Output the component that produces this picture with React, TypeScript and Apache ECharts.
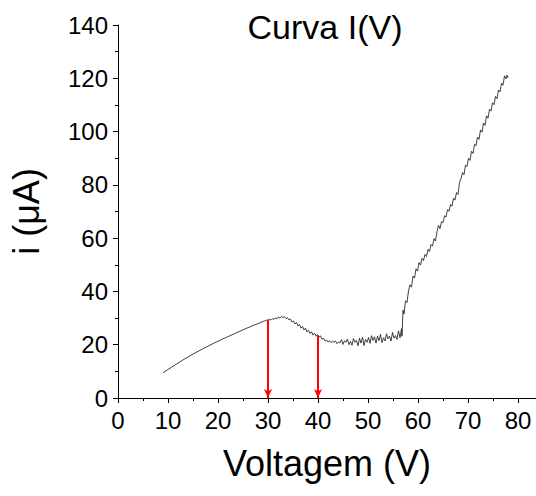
import React, { useEffect, useRef } from "react";
import * as echarts from "echarts";

const voltage: number[] = [
  9.0, 11, 13, 15, 17, 19, 21, 23, 25, 27, 28.5, 29.5, 30,
  30.3, 30.6, 30.9, 31.2, 31.5, 31.8, 32.1, 32.4, 32.7, 33.0, 33.3, 33.6, 33.9,
  34.2, 34.5, 34.8, 35.1, 35.4, 35.7, 36.0, 36.3, 36.6, 36.9, 37.2, 37.5, 37.8,
  38.1, 38.4, 38.7, 39.0, 39.3, 39.6, 39.9, 40.2, 40.5, 40.8, 41.1, 41.4, 41.7,
  42.0, 42.3, 42.6, 42.9, 43.2, 43.5, 43.8, 44.1, 44.4, 44.7, 45.0, 45.3, 45.6,
  45.9, 46.2, 46.5, 46.8, 47.1, 47.4, 47.7, 48.0, 48.3, 48.6, 48.9, 49.2, 49.5,
  49.8, 50.1, 50.4, 50.7, 51.0, 51.3, 51.6, 51.9, 52.2, 52.5, 52.8, 53.1, 53.4,
  53.7, 54.0, 54.3, 54.6, 54.9, 55.2, 55.5, 55.8, 56.1, 56.4, 56.7, 56.8,
  57.0, 57.2, 57.5, 57.8, 58.1, 58.4, 58.7, 59.0, 59.3, 59.6, 59.9, 60.2, 60.5,
  60.8, 61.1, 61.4, 61.7, 62.0, 62.3, 62.6, 62.9, 63.2, 63.5, 63.8, 64.1, 64.4,
  64.7, 65.0, 65.3, 65.6, 65.9, 66.2, 66.5, 66.8, 67.1, 67.4, 67.7, 68.0, 68.3,
  68.6, 68.9, 69.2, 69.5, 69.8, 70.1, 70.4, 70.7, 71.0, 71.3, 71.6, 71.9, 72.2,
  72.5, 72.8, 73.1, 73.4, 73.7, 74.0, 74.3, 74.6, 74.9, 75.2, 75.5, 75.8, 76.1,
  76.4, 76.7, 77.0, 77.3, 77.6, 77.8, 78.0,
];

const current: number[] = [
  9.5, 11.9, 14.3, 16.5, 18.5, 20.4, 22.2, 23.9, 25.6, 27.2, 28.3, 29.1, 29.3,
  29.6, 29.2, 29.8, 29.5, 30.1, 29.7, 30.4, 30.0, 30.6, 30.2, 30.5, 29.8, 30.2,
  29.3, 29.6, 28.5, 28.9, 27.8, 28.3, 27.0, 27.6, 26.2, 26.9, 25.5, 26.2, 24.8,
  25.4, 24.2, 24.9, 23.6, 24.3, 23.2, 23.8, 22.9, 23.3, 22.1, 22.4, 21.4, 21.7,
  21.0, 21.5, 20.8, 21.3, 20.9, 21.4, 20.4, 21.0, 20.7, 21.9, 20.1, 21.5, 20.9,
  22.1, 20.0, 21.2, 19.8, 22.3, 20.9, 21.6, 19.6, 22.4, 20.6, 22.8, 19.7, 22.0,
  20.9, 22.7, 20.5, 23.4, 21.6, 23.0, 20.6, 23.2, 21.5, 23.9, 20.8, 22.6, 21.4,
  24.1, 22.2, 23.2, 21.4, 24.6, 22.5, 23.4, 22.0, 25.2, 22.6, 26.0, 23.2,
  33.0, 31.5, 36.5, 35.8, 40.2, 42.5, 41.6, 45.8, 45.0, 48.5, 47.6, 50.8, 49.9,
  52.4, 51.6, 53.9, 53.1, 55.8, 55.0, 57.6, 57.0, 59.8, 58.9, 62.5, 64.8, 63.6,
  66.2, 65.8, 68.4, 67.9, 70.7, 70.1, 72.6, 72.0, 75.0, 74.3, 77.1, 76.4, 80.9,
  82.4, 84.6, 83.8, 87.4, 86.9, 90.0, 89.2, 92.6, 91.8, 95.2, 94.7, 97.9, 97.1,
  100.6, 99.8, 103.2, 102.3, 105.9, 105.0, 108.4, 107.7, 110.8, 110.1, 113.2, 112.4, 115.6,
  114.9, 118.2, 117.4, 120.9, 119.8, 121.2, 120.2,
];

const arrowVoltages: number[] = [30, 40];
const arrowStarts: number[] = [29.3, 23.5];

const FONT = "'Liberation Sans', Arial, sans-serif";

export default function App() {
  const ref = useRef<HTMLDivElement>(null);
  useEffect(() => {
    if (!ref.current) return;
    const chart = echarts.init(ref.current, undefined, { renderer: "svg" });
    const data = voltage.map((v, i) => [v, current[i]]);
    const arrows = arrowVoltages.map((v, i) => [
      { coord: [v, arrowStarts[i]] },
      { coord: [v, 0] },
    ]);
    const axisCommon = {
      axisLine: { show: true, lineStyle: { color: "#000", width: 1 } },
      axisTick: { show: true, inside: false, length: 5, lineStyle: { color: "#000" } },
      minorTick: { show: true, splitNumber: 2, length: 3, lineStyle: { color: "#000" } },
      splitLine: { show: false },
      axisLabel: { color: "#000", fontSize: 24, fontFamily: FONT },
    };
    chart.setOption({
      animation: false,
      backgroundColor: "#fff",
      grid: { left: 118, top: 25, width: 418, height: 373 },
      graphic: [
        {
          type: "text",
          x: 325,
          y: 27,
          style: {
            text: "Curva I(V)",
            fontSize: 34,
            fontFamily: FONT,
            fill: "#000",
            textAlign: "center",
            textVerticalAlign: "middle",
          },
        },
      ],
      xAxis: {
        type: "value",
        min: 0,
        max: 83.6,
        interval: 10,
        ...axisCommon,
        axisLabel: { ...axisCommon.axisLabel, margin: 10, showMaxLabel: false },
        name: "Voltagem (V)",
        nameLocation: "middle",
        nameGap: 47,
        nameTextStyle: { color: "#000", fontSize: 36, fontFamily: FONT },
      },
      yAxis: {
        type: "value",
        min: 0,
        max: 140,
        interval: 20,
        ...axisCommon,
        axisLabel: { ...axisCommon.axisLabel, margin: 10 },
        name: "i (μA)",
        nameLocation: "middle",
        nameGap: 74,
        nameRotate: 90,
        nameTextStyle: { color: "#000", fontSize: 36, fontFamily: FONT },
      },
      series: [
        {
          type: "line",
          data,
          showSymbol: false,
          lineStyle: { color: "#111", width: 0.8 },
          markLine: {
            silent: true,
            symbol: ["none", "arrow"],
            symbolSize: [6, 9],
            label: { show: false },
            lineStyle: { color: "#ff0000", width: 2, type: "solid" },
            data: arrows,
          },
        },
      ],
    });
    return () => chart.dispose();
  }, []);
  return (
    <div
      ref={ref}
      style={{ position: "fixed", left: 0, top: 0, width: 536, height: 496 }}
    />
  );
}
